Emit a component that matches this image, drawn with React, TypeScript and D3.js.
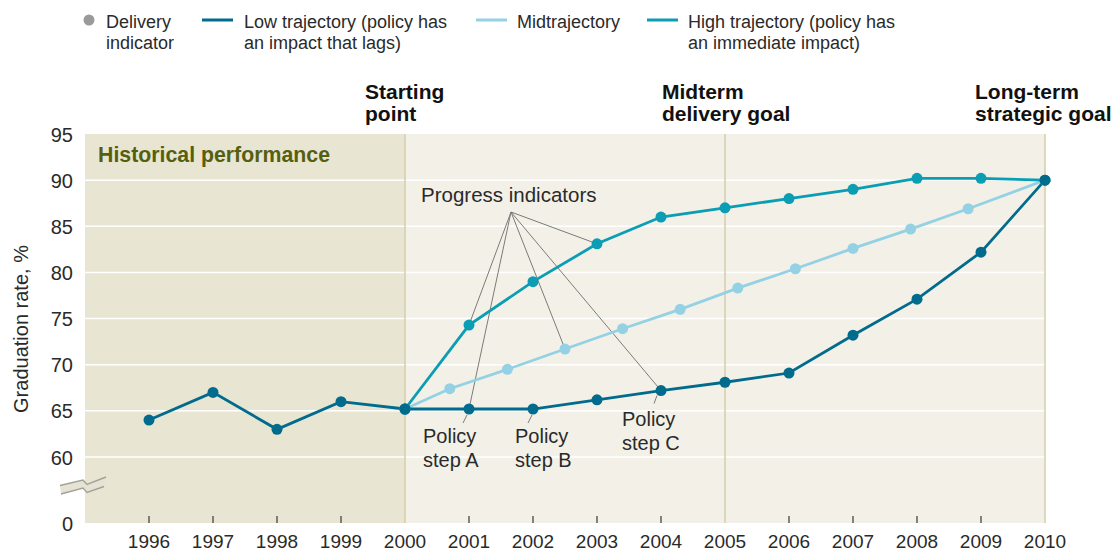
import React from 'react';
import * as d3 from 'd3';

// x axis years and y axis ticks
const tickYears = [1996, 1997, 1998, 1999, 2000, 2001, 2002, 2003, 2004, 2005, 2006, 2007, 2008, 2009, 2010];
const yTicks = [95, 90, 85, 80, 75, 70, 65, 60, 0];
const gridValues = [60, 65, 70, 75, 80, 85, 90];
const milestoneYears = [2000, 2005, 2010];

// historical performance (delivery indicator)
const historyYears = [1996, 1997, 1998, 1999, 2000];
const historyValues = [64, 67, 63, 66, 65.2];

// low trajectory (policy has an impact that lags)
const lowYears = [2000, 2001, 2002, 2003, 2004, 2005, 2006, 2007, 2008, 2009, 2010];
const lowValues = [65.2, 65.2, 65.2, 66.2, 67.2, 68.1, 69.1, 73.2, 77.1, 82.2, 90];

// midtrajectory
const midYears = [2000, 2000.7, 2001.6, 2002.5, 2003.4, 2004.3, 2005.2, 2006.1, 2007.0, 2007.9, 2008.8, 2010];
const midValues = [65.2, 67.4, 69.5, 71.7, 73.9, 76.0, 78.3, 80.4, 82.6, 84.7, 86.9, 90];

// high trajectory (policy has an immediate impact)
const highYears = [2000, 2001, 2002, 2003, 2004, 2005, 2006, 2007, 2008, 2009, 2010];
const highValues = [65.2, 74.3, 79.0, 83.1, 86.0, 87.0, 88.0, 89.0, 90.2, 90.2, 90.0];

// which points the "Progress indicators" note points at: [series, index]
const progressTargets: Array<[string, number]> = [['high', 1], ['low', 1], ['mid', 3], ['high', 3], ['low', 4]];

const COLORS = {
  low: '#006b8c',
  mid: '#94d1e5',
  high: '#0b9db3',
  dot: '#9a9a9a',
  histBg: '#e9e5d3',
  futureBg: '#f3f1e7',
  milestone: '#d4ceac',
  olive: '#55600f',
};

const FONT = '"Liberation Sans", Arial, Helvetica, sans-serif';

const App: React.FC = () => {
  const width = 1116;
  const height = 552;

  const x = d3.scaleLinear().domain([1995, 2010]).range([85, 1045]);
  // broken axis: 0 sits just below the 60-95 band
  const y = d3.scaleLinear().domain([0, 60, 95]).range([523, 457, 134]);

  const line = d3.line<[number, number]>().x(d => x(d[0])).y(d => y(d[1]));

  const zip = (xs: number[], vs: number[]) => xs.map((v, i) => [v, vs[i]] as [number, number]);
  const series: Record<string, [number, number][]> = {
    history: zip(historyYears, historyValues),
    low: zip(lowYears, lowValues),
    mid: zip(midYears, midValues),
    high: zip(highYears, highValues),
  };

  const hub: [number, number] = [511, 212];

  const legend = [
    { kind: 'dot', color: COLORS.dot, x: 89, tx: 106, lines: ['Delivery', 'indicator'] },
    { kind: 'line', color: COLORS.low, x: 202, tx: 244, lines: ['Low trajectory (policy has', 'an impact that lags)'] },
    { kind: 'line', color: COLORS.mid, x: 476, tx: 517, lines: ['Midtrajectory'] },
    { kind: 'line', color: COLORS.high, x: 647, tx: 688, lines: ['High trajectory (policy has', 'an immediate impact)'] },
  ];

  const milestoneLabels = [
    { year: 2000, dx: -40, lines: ['Starting', 'point'] },
    { year: 2005, dx: -63, lines: ['Midterm', 'delivery goal'] },
    { year: 2010, dx: -70, lines: ['Long-term', 'strategic goal'] },
  ];

  const policyLabels = [
    { idx: 1, tx: 423, ty: 443, stub: [[-2, 6], [-6, 14]], lines: ['Policy', 'step A'] },
    { idx: 2, tx: 515, ty: 443, stub: [[-1, 6], [-5, 14]], lines: ['Policy', 'step B'] },
    { idx: 4, tx: 622, ty: 426, stub: [[-4, 5], [-7, 13]], lines: ['Policy', 'step C'] },
  ];

  const top = y(95);
  const bottom = y(0);

  const dots = (key: string, color: string, r = 5.5) =>
    series[key].map((d, i) => <circle key={key + i} cx={x(d[0])} cy={y(d[1])} r={r} fill={color} />);

  return (
    <div style={{ position: 'fixed', left: 0, top: 0, width, height, overflow: 'hidden', background: '#fff' }}>
      <svg width={width} height={height} style={{ display: 'block', fontFamily: FONT }}>
        {/* legend */}
        {legend.map((l, i) => (
          <g key={'lg' + i}>
            {l.kind === 'dot' ? (
              <circle cx={l.x} cy={20} r={5.5} fill={l.color} />
            ) : (
              <line x1={l.x} x2={l.x + 31} y1={20} y2={20} stroke={l.color} strokeWidth={3} />
            )}
            <text x={l.tx} y={28} fontSize={18} fill="#2a2a2a">
              {l.lines.map((t, j) => (
                <tspan key={j} x={l.tx} y={28 + j * 21}>{t}</tspan>
              ))}
            </text>
          </g>
        ))}

        {/* milestone labels */}
        {milestoneLabels.map((m, i) => (
          <text key={'ms' + i} fontSize={21} fontWeight="bold" fill="#111">
            {m.lines.map((t, j) => (
              <tspan key={j} x={x(m.year) + m.dx} y={99 + j * 22}>{t}</tspan>
            ))}
          </text>
        ))}

        {/* backgrounds */}
        <rect x={x(1995)} y={top} width={x(2000) - x(1995)} height={bottom - top} fill={COLORS.histBg} />
        <rect x={x(2000)} y={top} width={x(2010) - x(2000)} height={bottom - top} fill={COLORS.futureBg} />

        {/* grid */}
        {gridValues.map(v => (
          <line key={'g' + v} x1={x(1995)} x2={x(2010)} y1={y(v)} y2={y(v)} stroke="#fff" strokeWidth={1.5} />
        ))}
        {milestoneYears.map(yr => (
          <line key={'m' + yr} x1={x(yr)} x2={x(yr)} y1={top} y2={bottom} stroke={COLORS.milestone} strokeWidth={1.5} />
        ))}

        <text x={98} y={162} fontSize={21.3} fontWeight="bold" fill={COLORS.olive}>Historical performance</text>

        {/* y axis */}
        {yTicks.map(v => (
          <text key={'yt' + v} x={73} y={y(v) + 7.5} fontSize={20} textAnchor="end" fill="#2a2a2a">{v}</text>
        ))}
        <text transform="translate(28,329) rotate(-90)" fontSize={20} textAnchor="middle" fill="#2a2a2a">
          Graduation rate, %
        </text>

        {/* axis break */}
        <path
          d="M60,485.5 L83,480 L87,484.5 L106,477 L104,486.5 L87,492.5 L83,488 L61,494 Z"
          fill="#e6e3d3"
          stroke="none"
        />
        <path d="M60,485.5 L83,480 L87,484.5 L106,477" fill="none" stroke="#a3a299" strokeWidth={1.4} />
        <path d="M61,494 L83,488 L87,492.5 L104,486.5" fill="none" stroke="#a3a299" strokeWidth={1.4} />

        {/* x axis */}
        {tickYears.filter(yr => !milestoneYears.includes(yr)).map(yr => (
          <line key={'xt' + yr} x1={x(yr)} x2={x(yr)} y1={bottom - 7} y2={bottom} stroke="#444" strokeWidth={1.3} />
        ))}
        {tickYears.map(yr => (
          <text key={'xl' + yr} x={x(yr)} y={548} fontSize={19} textAnchor="middle" fill="#2a2a2a">{yr}</text>
        ))}

        {/* progress indicator leaders */}
        {progressTargets.map(([k, i], n) => {
          const d = series[k][i];
          return (
            <line key={'pl' + n} x1={hub[0]} y1={hub[1]} x2={x(d[0])} y2={y(d[1])} stroke="#7a7a7a" strokeWidth={1} />
          );
        })}
        <text x={421} y={202} fontSize={20.5} fill="#2a2a2a">Progress indicators</text>

        {/* policy step labels */}
        {policyLabels.map((p, i) => {
          const d = series.low[p.idx];
          const cx = x(d[0]);
          const cy = y(d[1]);
          return (
            <g key={'pol' + i}>
              <line x1={cx + p.stub[0][0]} y1={cy + p.stub[0][1]} x2={cx + p.stub[1][0]} y2={cy + p.stub[1][1]} stroke="#7a7a7a" strokeWidth={1} />
              <text fontSize={20} fill="#2a2a2a">
                {p.lines.map((t, j) => (
                  <tspan key={j} x={p.tx} y={p.ty + j * 24}>{t}</tspan>
                ))}
              </text>
            </g>
          );
        })}

        {/* series */}
        <path d={line(series.mid) || ''} fill="none" stroke={COLORS.mid} strokeWidth={2.8} />
        <path d={line(series.high) || ''} fill="none" stroke={COLORS.high} strokeWidth={2.8} />
        <path d={line(series.history) || ''} fill="none" stroke={COLORS.low} strokeWidth={2.8} />
        <path d={line(series.low) || ''} fill="none" stroke={COLORS.low} strokeWidth={2.8} />
        {dots('mid', COLORS.mid)}
        {dots('high', COLORS.high)}
        {dots('history', COLORS.low)}
        {dots('low', COLORS.low)}
      </svg>
    </div>
  );
};

export default App;
